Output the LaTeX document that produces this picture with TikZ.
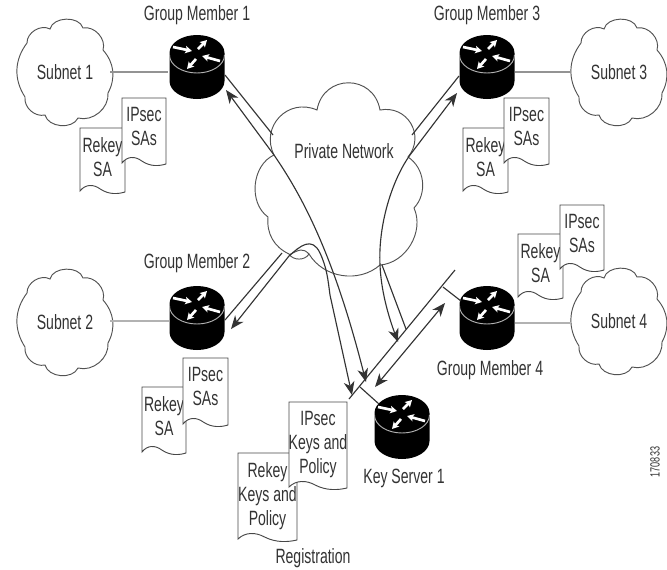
\documentclass[tikz,border=0pt]{standalone}
\usepackage{fontspec}
\setmainfont[FakeStretch=0.68]{Liberation Sans}
\usetikzlibrary{arrows.meta}
\definecolor{ink}{HTML}{333333}
\tikzset{
  x=0.75pt,y=-0.75pt,
  lbl/.style={font=\fontsize{15.5}{18}\selectfont,text=ink,align=center,inner sep=0pt},
  edge/.style={draw=ink,line width=0.85pt},
  thin link/.style={draw=gray!85,line width=1.1pt},
  thick link/.style={draw=gray!60,line width=2pt},
  tip both/.style={{Stealth[length=10pt,width=8pt,inset=3pt]}-{Stealth[length=10pt,width=8pt,inset=3pt]}},
  outline/.style={draw=ink!90,line width=0.7pt,fill=white},
  cloudline/.style={draw=ink!85,line width=0.7pt},
  glint/.style={draw=white,line width=2pt,-{Stealth[length=5pt,width=5.5pt,inset=1pt]}},
}
% router: name, x of centre, y of centre of the top disc
\newcommand{\routerat}[3]{%
  \begin{scope}[shift={(#2,#3)}]
    \fill[black] (-27.5,0) arc[start angle=180,end angle=360,x radius=27.5,y radius=18] -- (27.5,28)
      arc[start angle=0,end angle=180,x radius=27.5,y radius=18] -- cycle;
    \draw[gray!60,line width=0.7pt] (-27.5,2) arc[start angle=180,end angle=0,x radius=27.5,y radius=18];
    \draw[glint] (-24,-6) -- (-5,-2);
    \draw[glint] (23,8) -- (5,3);
    \draw[glint] (1,-4) -- (10,-13);
    \draw[glint] (-1,6) -- (-10,16);
    \node[inner sep=0pt,minimum size=1pt] (#1) at (0,14) {};
  \end{scope}}
% cloud: name, centre x, centre y, text
\newcommand{\subnet}[4]{%
  \begin{scope}[shift={(#2,#3)}]
    \draw[cloudline] (-14,-41) to[bend left=75] (19,-42) to[bend left=60] (39,-20)
      to[bend left=35] (44,23) to[bend left=55] (14,48) to[bend left=70] (-19,45)
      to[bend left=55] (-39,27) to[bend left=35] (-37,-27) to[bend left=60] cycle;
    \node[lbl] (#1) at (1,2) {#4};
  \end{scope}}
% paper: name, left, top, width, height, text, text offset from top
\newcommand{\paper}[7]{%
  \begin{scope}[shift={(#2,#3)}]
  \draw[outline] (0,0) -- (#4,0) -- (#4,#5)
     .. controls ({0.85*#4},{#5+2}) and ({0.65*#4},{#5+3}) .. ({0.45*#4},{#5-3})
     .. controls ({0.3*#4},{#5-8}) and ({0.12*#4},{#5-8}) .. (0,{#5-1}) -- cycle;
  \node[lbl,anchor=north] (#1) at ({0.5*#4},#7) {#6};
  \end{scope}}
\begin{document}
\begin{tikzpicture}
\useasboundingbox (0,0) rectangle (667,569);
\fill[white] (0,0) rectangle (667,569);
% clouds
\subnet{s1}{64}{70}{Subnet 1}
\subnet{s3}{618}{70}{Subnet 3}
\subnet{s2}{64}{320}{Subnet 2}
\subnet{s4}{618}{319}{Subnet 4}
\draw[cloudline] (317,110) to[bend left=80,looseness=1.5] (380,110) to[bend left=70,looseness=1.3] (408,157)
  to[bend left=50] (414,208) to[bend left=55] (380,265) to[bend left=50] (309,254)
  to[bend left=60] (289,254) to[bend left=35] (268,217) to[bend left=60] (274,155)
  to[bend left=70,looseness=1.3] cycle;
\draw[cloudline] (309,254) .. controls (303,248) and (300,249) .. (289,255);
\node[lbl] (pn) at (344,151) {Private Network};
% routers
\routerat{gm1}{197}{53}
\routerat{gm3}{487}{53}
\routerat{gm2}{197}{304}
\routerat{gm4}{487}{304}
\routerat{ks}{402}{413}
% labels
\node[lbl] (lgm1) at (197,15) {Group Member 1};
\node[lbl] (lgm3) at (487,15) {Group Member 3};
\node[lbl] (lgm2) at (197,263) {Group Member 2};
\node[lbl] (lgm4) at (490,370) {Group Member 4};
\node[lbl] (lks) at (404,478) {Key Server 1};
\node[lbl] (lreg) at (313,558) {Registration};
\node[lbl,rotate=90,font=\fontsize{10}{12}\selectfont] (lnum) at (655,462) {170833};
% connection points
\coordinate (s1r) at (110,72); \coordinate (g1l) at (168,72);
\coordinate (s3l) at (571,72); \coordinate (g3r) at (515,72);
\coordinate (s2r) at (110,321); \coordinate (g2l) at (169,321);
\coordinate (s4l) at (571,323); \coordinate (g4r) at (515,323);
\draw[thin link] (s1r) -- (g1l);
\draw[thin link] (g3r) -- (s3l);
\draw[thick link] (s2r) -- (g2l);
\draw[thick link] (g4r) -- (s4l);
\coordinate (a1) at (225,75); \coordinate (a2) at (273,135);
\coordinate (a3) at (226,90); \coordinate (a4) at (366,382);
\draw[edge] (a1) -- (a2);
\draw[edge,tip both] (a3) -- (274,155) .. controls (305,200) and (335,260) .. (a4);
\coordinate (b1) at (225,320); \coordinate (b2) at (282,253);
\coordinate (b3) at (231,329); \coordinate (b4) at (352,395);
\draw[edge] (b1) -- (b2);
\draw[edge,tip both] (b3) -- (289,256) .. controls (300,246) and (312,236) .. (320,253)
   .. controls (327,268) and (328,280) .. (330,295) -- (b4);
\coordinate (c1) at (459,76); \coordinate (c2) at (412,135);
\coordinate (c3) at (457,93); \coordinate (c4) at (398,342);
\draw[edge] (c1) -- (c2);
\draw[edge,tip both] (c3) -- (410,155) .. controls (392,180) and (378,225) .. (380,265)
   .. controls (381,290) and (388,315) .. (c4);
\coordinate (c5) at (382,265); \coordinate (c6) at (406,329);
\draw[edge] (c5) -- (c6);
\coordinate (d1) at (455,270); \coordinate (d2) at (349,399);
\draw[edge] (d1) -- (d2);
\coordinate (d3) at (443,287); \coordinate (d4) at (461,301);
\draw[edge] (d3) -- (d4);
\coordinate (d5) at (360,387); \coordinate (d6) at (379,404);
\draw[edge] (d5) -- (d6);
\coordinate (d7) at (445,303); \coordinate (d8) at (375,387);
\draw[edge,tip both] (d7) -- (d8);
% papers
\paper{r1}{80}{128}{45}{64}{Rekey\\SA}{9}
\paper{i1}{122}{98}{44}{66}{IPsec\\SAs}{9}
\paper{r3}{463}{128}{45}{64}{Rekey\\SA}{9}
\paper{i3}{504}{98}{45}{66}{IPsec\\SAs}{9}
\paper{r4}{518}{234}{45}{64}{Rekey\\SA}{9}
\paper{i4}{560}{205}{44}{65}{IPsec\\SAs}{9}
\paper{r2}{142}{387}{44}{66}{Rekey\\SA}{9}
\paper{i2}{183}{358}{45}{67}{IPsec\\SAs}{9}
\paper{r5}{238}{453}{59}{87}{Rekey\\Keys and\\Policy}{9}
\paper{i5}{289}{402}{58}{86}{IPsec\\Keys and\\Policy}{9}
\end{tikzpicture}
\end{document}
